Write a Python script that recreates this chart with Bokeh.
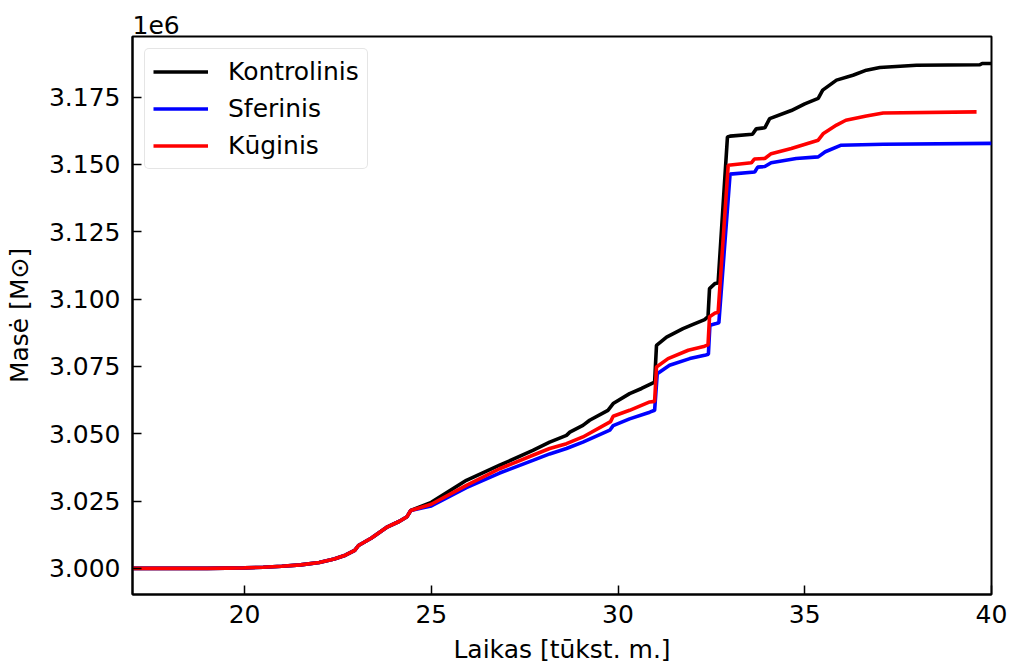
from bokeh.plotting import figure
from bokeh.models import FixedTicker, PrintfTickFormatter, Legend, LegendItem, Range1d, Title
from bokeh.embed import file_html
from bokeh.resources import INLINE

# Mass in units of 1e6 solar masses, time in thousands of years
shared_t = [17.0, 18.0, 19.0, 20.0, 20.5, 21.0, 21.5, 22.0, 22.4, 22.7, 22.95, 23.05,
            23.4, 23.8, 24.15, 24.35, 24.45]
shared_m = [3.0000, 3.0000, 3.0000, 3.0002, 3.0004, 3.0008, 3.0013, 3.0022, 3.0035, 3.0049,
            3.0067, 3.0085, 3.0113, 3.0152, 3.0175, 3.0192, 3.0215]

kontrolinis_t = [25.0, 25.94, 26.83, 27.72, 28.17, 28.62, 28.71, 29.06, 29.24, 29.73, 29.87,
                 30.31, 30.63, 30.98, 31.03, 31.3, 31.74, 32.01, 32.32, 32.41, 32.45, 32.6,
                 32.68, 32.93, 33.0, 33.6, 33.7, 33.93, 34.06, 34.64, 35.0, 35.36, 35.48,
                 35.85, 36.29, 36.65, 37.01, 37.99, 39.69, 39.75, 40.0]
kontrolinis_m = [3.0245, 3.0327, 3.0383, 3.0438, 3.0469, 3.0494, 3.0506, 3.0531, 3.0550,
                 3.0587, 3.0612, 3.0649, 3.0668, 3.0692, 3.0828, 3.0859, 3.0890, 3.0906,
                 3.0924, 3.0935, 3.1039, 3.1058, 3.1060, 3.1602, 3.1605, 3.1612, 3.1632,
                 3.1636, 3.1670, 3.1700, 3.1725, 3.1745, 3.1776, 3.1813, 3.1831, 3.1850,
                 3.1860, 3.1868, 3.1870, 3.1875, 3.1875]

sferinis_t = [25.0, 25.94, 26.83, 27.72, 28.17, 28.62, 29.06, 29.78, 29.87, 30.31, 30.85,
              30.98, 31.05, 31.38, 31.92, 32.32, 32.42, 32.46, 32.63, 32.7, 33.0, 33.66,
              33.74, 33.93, 34.1, 34.77, 35.36, 35.55, 35.96, 37.1, 40.0]
sferinis_m = [3.0232, 3.0300, 3.0354, 3.0401, 3.0425, 3.0445, 3.0469, 3.0513, 3.0530,
              3.0555, 3.0580, 3.0587, 3.0723, 3.0754, 3.0779, 3.0791, 3.0795, 3.0903,
              3.0909, 3.0912, 3.1464, 3.1472, 3.1490, 3.1492, 3.1506, 3.1522, 3.1528,
              3.1547, 3.1571, 3.1575, 3.1578]

kuginis_t = [25.0, 25.94, 26.83, 27.72, 28.17, 28.62, 29.06, 29.8, 29.87, 30.31, 30.85,
             30.98, 31.03, 31.34, 31.88, 32.32, 32.41, 32.45, 32.6, 32.68, 32.95, 33.57,
             33.65, 33.93, 34.1, 34.64, 35.36, 35.5, 35.85, 36.1, 36.65, 37.1, 39.6]
kuginis_m = [3.0238, 3.0308, 3.0370, 3.0420, 3.0445, 3.0463, 3.0488, 3.0545, 3.0565,
             3.0587, 3.0618, 3.0620, 3.0748, 3.0779, 3.0810, 3.0825, 3.0830, 3.0934,
             3.0948, 3.0950, 3.1497, 3.1506, 3.1520, 3.1522, 3.1540, 3.1559, 3.1590,
             3.1615, 3.1646, 3.1664, 3.1680, 3.1691, 3.1695]

labels = ["Kontrolinis", "Sferinis", "Kūginis"]
colors = ["black", "blue", "red"]
x_ticks = [20, 25, 30, 35, 40]
y_ticks = [3.000, 3.025, 3.050, 3.075, 3.100, 3.125, 3.150, 3.175]

FONT = "DejaVu Sans"
FS = "25px"

p = figure(width=1013, height=666, output_backend="svg", toolbar_location=None,
           x_range=Range1d(17, 40), y_range=Range1d(2.9903, 3.1975),
           min_border_left=132, min_border_right=22, min_border_top=36, min_border_bottom=72)
p.background_fill_color = "white"
p.border_fill_color = "white"
p.xgrid.visible = False
p.ygrid.visible = False
p.outline_line_color = "black"
p.outline_line_width = 2

p.title = Title(text="1e6", align="left", text_font=FONT, text_font_size=FS,
                text_font_style="normal", text_color="black", standoff=5, offset=0)

series = [
    (shared_t + kontrolinis_t, shared_m + kontrolinis_m),
    (shared_t + sferinis_t, shared_m + sferinis_m),
    (shared_t + kuginis_t, shared_m + kuginis_m),
]
renderers = []
for (t, m), lab, col in zip(series, labels, colors):
    r = p.line(t, m, line_color=col, line_width=3.6)
    renderers.append((lab, r))

legend = Legend(items=[LegendItem(label=lab, renderers=[r]) for lab, r in renderers],
                location="top_left")
legend.label_text_font = FONT
legend.label_text_font_size = FS
legend.label_text_color = "black"
legend.glyph_width = 55
legend.glyph_height = 27
legend.label_height = 27
legend.label_standoff = 20
legend.spacing = 8
legend.padding = 8
legend.margin = 12
legend.border_line_color = "#cccccc"
legend.border_line_width = 1.5
legend.border_radius = 5
legend.background_fill_alpha = 0.8
p.add_layout(legend)

for ax in (p.xaxis[0], p.yaxis[0]):
    ax.axis_line_width = 2
    ax.major_tick_in = 9
    ax.major_tick_out = 0
    ax.major_tick_line_width = 1.5
    ax.minor_tick_in = 0
    ax.minor_tick_out = 0
    ax.major_label_text_font = FONT
    ax.major_label_text_font_size = FS
    ax.major_label_text_color = "black"
    ax.axis_label_text_font = FONT
    ax.axis_label_text_font_size = FS
    ax.axis_label_text_font_style = "normal"
    ax.axis_label_text_color = "black"

p.xaxis.ticker = FixedTicker(ticks=x_ticks)
p.yaxis.ticker = FixedTicker(ticks=y_ticks)
p.yaxis.formatter = PrintfTickFormatter(format="%.3f")
p.xaxis.major_label_standoff = 10
p.yaxis.major_label_standoff = 12
p.xaxis.axis_label = "Laikas [tūkst. m.]"
p.yaxis.axis_label = "Masė [M⊙]"
p.xaxis.axis_label_standoff = 9
p.yaxis.axis_label_standoff = 12

open("out.html", "w").write(file_html(p, INLINE))
